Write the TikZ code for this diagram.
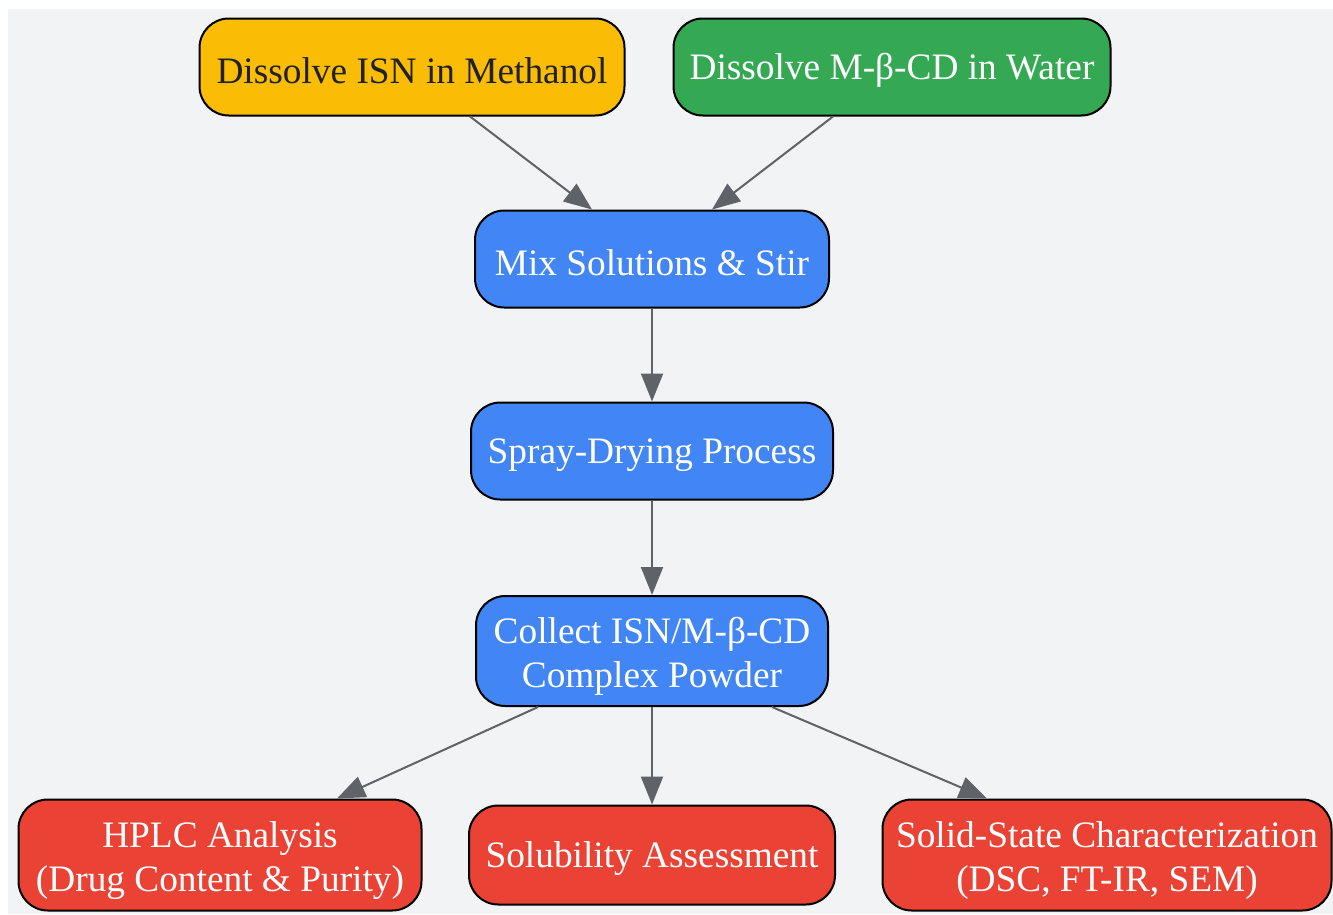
\documentclass[tikz,border=0pt]{standalone}
\usepackage{fontspec}
\setmainfont{Liberation Serif}
\usepackage{tikz}
\usetikzlibrary{arrows.meta}

\definecolor{bgGray}{HTML}{F1F3F4}
\definecolor{stepYellow}{HTML}{FBBC05}
\definecolor{stepGreen}{HTML}{34A853}
\definecolor{stepBlue}{HTML}{4285F4}
\definecolor{stepRed}{HTML}{EA4335}
\definecolor{arrowGray}{HTML}{5F6368}
\definecolor{darkText}{HTML}{202124}

\tikzset{
  procbox/.style={draw=black, line width=1.5pt, rounded corners=22pt,
    align=center, inner sep=2pt, minimum height=72.75pt, text=white,
    font=\fontsize{28}{33}\selectfont,
    execute at begin node={\rule{0pt}{25pt}}},
  twoline/.style={minimum height=83.25pt,
    execute at begin node={\rule{0pt}{61pt}}},
  flow/.style={draw=arrowGray, line width=1.5pt,
    -{Triangle[length=21pt,width=16.5pt]}}
}

\begin{document}
\begin{tikzpicture}[x=0.75pt, y=-0.75pt]
    \useasboundingbox (0,0) rectangle (1333,914);

    % background panel
    \fill[bgGray] (8,9) rectangle (1333,914);

    % the two starting solutions
    \node[procbox, fill=stepYellow, text=darkText, minimum width=318.75pt] (isn) at (412,67) {Dissolve ISN in Methanol};
    \node[procbox, fill=stepGreen, minimum width=327.75pt] (cd) at (892,67) {Dissolve M-β-CD in Water};

    % preparation steps
    \node[procbox, fill=stepBlue, minimum width=265.5pt] (mix) at (652,259) {Mix Solutions \& Stir};
    \node[procbox, fill=stepBlue, minimum width=271.5pt] (spray) at (652,451) {Spray-Drying Process};
    \node[procbox, twoline, fill=stepBlue, minimum width=264pt, minimum height=82.5pt] (collect) at (652,651) {Collect ISN/M-β-CD\\Complex Powder};

    % the three analyses
    \node[procbox, twoline, fill=stepRed, minimum width=302.25pt] (hplc) at (220,855) {HPLC Analysis\\(Drug Content \& Purity)};
    \node[procbox, fill=stepRed, minimum width=274.5pt, minimum height=74.25pt] (solub) at (652,855) {Solubility Assessment};
    \node[procbox, twoline, fill=stepRed, minimum width=336.75pt] (solid) at (1107,855) {Solid-State Characterization\\(DSC, FT-IR, SEM)};

    % connectors
    \draw[flow] ([xshift=43.5pt]isn.south) -- ([xshift=-45pt]mix.north);
    \draw[flow] ([xshift=-44.25pt]cd.south) -- ([xshift=45pt]mix.north);
    \draw[flow] (mix) -- (spray);
    \draw[flow] (spray) -- (collect);
    \draw[flow] ([xshift=-85.5pt]collect.south) -- ([xshift=87.75pt]hplc.north);
    \draw[flow] (collect) -- (solub);
    \draw[flow] ([xshift=90pt]collect.south) -- ([xshift=-90pt]solid.north);

\end{tikzpicture}
\end{document}
